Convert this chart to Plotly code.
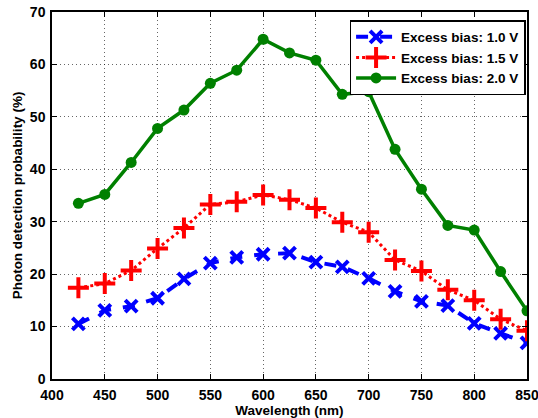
import plotly.graph_objects as go

wavelength = [425, 450, 475, 500, 525, 550, 575, 600, 625, 650, 675, 700, 725, 750, 775, 800, 825, 850]
pdp_1_0 = [10.5, 13.1, 13.9, 15.4, 19.1, 22.1, 23.2, 23.8, 24.0, 22.3, 21.4, 19.2, 16.7, 14.8, 14.0, 10.6, 8.7, 6.9]
pdp_1_5 = [17.4, 18.2, 20.7, 24.9, 28.8, 33.3, 33.8, 35.1, 34.2, 32.6, 29.9, 28.0, 22.7, 20.6, 17.0, 15.0, 11.4, 9.2]
pdp_2_0 = [33.5, 35.2, 41.3, 47.8, 51.3, 56.4, 58.9, 64.8, 62.2, 60.8, 54.3, 54.8, 43.8, 36.2, 29.3, 28.4, 20.5, 13.0]
names = ["Excess bias: 1.0 V", "Excess bias: 1.5 V", "Excess bias: 2.0 V"]

fig = go.Figure()
fig.add_trace(go.Scatter(x=wavelength, y=pdp_1_0, name=names[0], mode="lines+markers",
                         line=dict(color="#0000FF", width=4, dash="dash"),
                         marker=dict(symbol="x-thin-open", size=12, line=dict(color="#0000FF", width=4))))
fig.add_trace(go.Scatter(x=wavelength, y=pdp_1_5, name=names[1], mode="lines+markers",
                         line=dict(color="#FF0000", width=3, dash="dot"),
                         marker=dict(symbol="cross-thin-open", size=15, line=dict(color="#FF0000", width=4))))
fig.add_trace(go.Scatter(x=wavelength, y=pdp_2_0, name=names[2], mode="lines+markers",
                         line=dict(color="#008000", width=3.5),
                         marker=dict(symbol="circle", size=11, color="#008000")))

axis_common = dict(showline=True, linecolor="black", linewidth=1.5, mirror="allticks",
                   ticks="inside", ticklen=5, tickcolor="black", automargin=False,
                   ticklabeloverflow="allow",
                   showgrid=True, gridcolor="rgba(0,0,0,0.6)", griddash="1px,3px", gridwidth=1,
                   zeroline=False,
                   tickfont=dict(family="Liberation Sans", size=14, color="black", weight="bold"))

fig.update_xaxes(range=[400, 850], dtick=50, tick0=400, ticklabelstandoff=2,
                 title=dict(text="Wavelength (nm)", font=dict(family="Liberation Sans", size=13.5, color="black", weight="bold"), standoff=0),
                 **axis_common)
fig.update_yaxes(range=[0, 70], dtick=10, tick0=0, ticklabelstandoff=2,
                 title=dict(text="Photon detection probability (%)", font=dict(family="Liberation Sans", size=13.5, color="black", weight="bold"), standoff=4),
                 **axis_common)

fig.update_layout(
    width=538, height=418,
    margin=dict(l=52, r=11, t=12, b=39),
    plot_bgcolor="white", paper_bgcolor="white",
    legend=dict(x=0.997, y=0.978, xanchor="right", yanchor="top",
                bgcolor="white", bordercolor="black", borderwidth=1.5,
                font=dict(family="Liberation Sans", size=13.5, color="black", weight="bold"),
                tracegroupgap=0, itemwidth=40),
)

fig.write_html("out.html")
